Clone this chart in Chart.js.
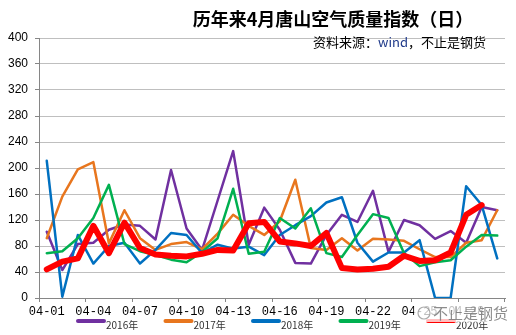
<!DOCTYPE html>
<html>
<head>
<meta charset="utf-8">
<script src="https://cdn.jsdelivr.net/npm/chart.js@4.4.1/dist/chart.umd.min.js"></script>
<style>
  html, body { margin: 0; padding: 0; background: #fff; }
  #wrap { width: 516px; height: 335px; }
</style>
</head>
<body>
<div id="wrap"><canvas id="aqiChart" width="516" height="335"></canvas></div>
<script>
// categories: daily AQI in April
const days = ['04-01','04-02','04-03','04-04','04-05','04-06','04-07','04-08','04-09','04-10',
              '04-11','04-12','04-13','04-14','04-15','04-16','04-17','04-18','04-19','04-20',
              '04-21','04-22','04-23','04-24','04-25','04-26','04-27','04-28','04-29','04-30'];
const years = ['2016年', '2017年', '2018年', '2019年', '2020年'];
const yTicks = [0, 40, 80, 120, 160, 200, 240, 280, 320, 360, 400];

// values
const aqi2016 = [102, 43, 83, 85, 105, 113, 111, 90, 197, 107, 74, 150, 226, 82, 139, 105, 54, 53, 97, 128, 117, 165, 71, 120, 112, 91, 103, 85, 140, 135];
const aqi2017 = [92, 156, 198, 209, 84, 135, 92, 74, 83, 86, 75, 99, 128, 111, 97, 118, 182, 77, 74, 92, 73, 91, 90, 88, 75, 63, 63, 85, 89, 135];
const aqi2018 = [211, 2, 97, 53, 80, 85, 53, 74, 100, 97, 69, 82, 76, 79, 66, 97, 112, 126, 147, 155, 85, 56, 70, 70, 89, 0, 0, 172, 143, 61];
const aqi2019 = [69, 72, 92, 123, 174, 83, 72, 66, 59, 55, 71, 92, 168, 68, 71, 123, 107, 138, 69, 63, 97, 129, 123, 69, 49, 55, 58, 79, 97, 96];
const aqi2020 = [44, 56, 61, 111, 69, 116, 77, 67, 65, 64, 68, 74, 73, 115, 117, 87, 84, 80, 100, 46, 44, 45, 48, 65, 57, 58, 70, 128, 143, null];

const series = [aqi2016, aqi2017, aqi2018, aqi2019, aqi2020];
const colors = ['#7030A0', '#E8761E', '#0070C0', '#00B050', '#FF0000'];
const widths = [2.5, 2.5, 2.5, 2.5, 6];

const datasets = series.map((d, i) => ({
    label: years[i], data: d, borderColor: colors[i], backgroundColor: colors[i],
    borderWidth: widths[i], pointRadius: 0, tension: 0, fill: false, order: 5 - i,
    borderCapStyle: 'round', borderJoinStyle: 'round', spanGaps: false
}));

// title, source note, legend and watermark drawn on the canvas
const decor = {
    id: 'decor',
    afterDraw(chart) {
        const c = chart.ctx;
        c.save();
        c.fillStyle = '#000';
        c.textAlign = 'center';
        c.textBaseline = 'alphabetic';
        c.font = 'bold 18px "Noto Sans CJK SC"';
        c.fillText('历年来4月唐山空气质量指数（日）', 333, 26);

        c.font = '13px "Noto Sans CJK SC"';
        c.textAlign = 'left';
        const p1 = '资料来源：', p2 = 'wind', p3 = '，不止是钢货';
        let x = 313;
        c.fillStyle = '#000'; c.fillText(p1, x, 47); x += c.measureText(p1).width;
        c.fillStyle = '#1F3A8A'; c.fillText(p2, x, 47); x += c.measureText(p2).width;
        c.fillStyle = '#000'; c.fillText(p3, x, 47);

        // legend
        c.font = '10px "Noto Sans CJK SC"';
        c.lineCap = 'round';
        years.forEach((y, i) => {
            const lx = 78 + i * 87.5;
            c.strokeStyle = colors[i];
            c.lineWidth = 4;
            c.beginPath(); c.moveTo(lx, 321); c.lineTo(lx + 26, 321); c.stroke();
            c.fillStyle = '#333';
            c.fillText(y, lx + 28, 329);
        });

        // watermark
        c.fillStyle = 'rgba(255,255,255,0.75)';
        c.fillRect(414, 304, 90, 18);
        c.strokeStyle = 'rgba(150,150,150,0.8)';
        c.lineWidth = 1.2;
        c.beginPath(); c.arc(424, 313, 6, 0, Math.PI * 2); c.stroke();
        c.fillStyle = 'rgba(120,120,120,0.85)';
        c.font = '15px "Noto Sans CJK SC"';
        c.fillText('不止是钢货', 433, 319);
        c.restore();
    }
};

const ctx = document.getElementById('aqiChart').getContext('2d');
const aqiChart = new Chart(ctx, {
    type: 'line',
    data: { labels: days, datasets: datasets },
    options: {
        responsive: false, animation: false, devicePixelRatio: 1,
        layout: { padding: { top: 38, right: 11, bottom: 15, left: 0 } },
        plugins: { legend: { display: false }, title: { display: false }, tooltip: { enabled: false } },
        scales: {
            x: {
                type: 'category', offset: true,
                grid: {
                    offset: true, drawOnChartArea: false, drawTicks: true, tickLength: 4,
                    color: (g) => (g.index === undefined || g.index % 3 === 0) ? '#868686' : 'rgba(0,0,0,0)'
                },
                border: { color: '#868686', width: 1 },
                ticks: {
                    autoSkip: false, maxRotation: 0, padding: 3, color: '#000',
                    font: { family: '"Liberation Mono", monospace', size: 12 },
                    callback: function (v, i) { return i % 3 === 0 ? this.getLabelForValue(v) : ''; }
                },
                afterFit: (s) => { s.height = 22; }
            },
            y: {
                min: 0, max: 400,
                afterBuildTicks: (s) => { s.ticks = yTicks.map(v => ({ value: v })); },
                grid: { color: '#BFBFBF', tickColor: '#868686', tickLength: 4, lineWidth: 1 },
                border: { color: '#868686', width: 1 },
                ticks: { color: '#000', padding: 7, font: { family: '"Liberation Sans", Arial', size: 12 } },
                afterFit: (s) => { s.width = 39; }
            }
        }
    },
    plugins: [decor]
});
</script>
</body>
</html>
